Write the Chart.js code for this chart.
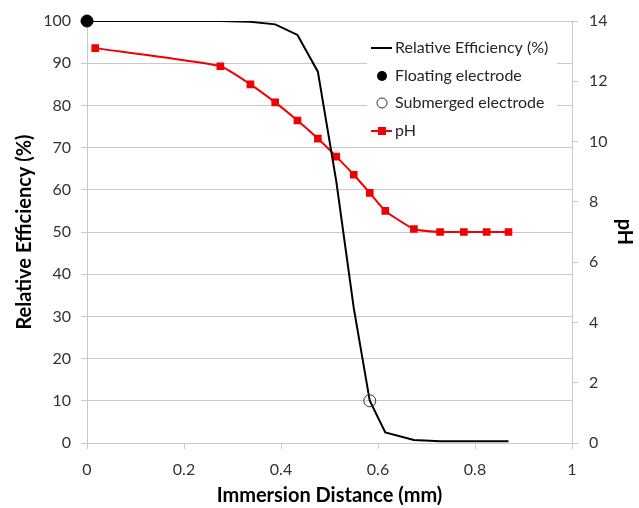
<!DOCTYPE html>
<html>
<head>
<meta charset="utf-8">
<script src="https://cdn.jsdelivr.net/npm/chart.js@4.4.0/dist/chart.umd.min.js"></script>
<style>
html, body { margin: 0; padding: 0; background: #fff; }
#wrap { width: 639px; height: 508px; }
</style>
</head>
<body>
<div id="wrap"><canvas id="LineChart"></canvas></div>
<script>
// data block (immersion distance in mm)
const effDistance = [0, 0.275, 0.337, 0.388, 0.434, 0.476, 0.514, 0.550, 0.583, 0.615, 0.674, 0.728, 0.777, 0.824, 0.869];
const effValues = [100, 100, 99.8, 99.2, 96.7, 88, 62, 32, 10, 2.5, 0.7, 0.4, 0.4, 0.4, 0.4];
const phDistance = [0.017, 0.275, 0.337, 0.388, 0.434, 0.476, 0.514, 0.550, 0.583, 0.615, 0.674, 0.728, 0.777, 0.824, 0.869];
const phValues = [13.1, 12.5, 11.9, 11.3, 10.7, 10.1, 9.5, 8.9, 8.3, 7.7, 7.1, 7.0, 7.0, 7.0, 7.0];
const floatingPoint = [0, 100];
const submergedPoint = [0.583, 10];
const xTicks = [0, 0.2, 0.4, 0.6, 0.8, 1];
const effTicks = [0, 10, 20, 30, 40, 50, 60, 70, 80, 90, 100];
const phTicks = [0, 2, 4, 6, 8, 10, 12, 14];
const labels = ['Relative Efficiency (%)', 'Floating electrode', 'Submerged electrode', 'pH'];

const FONT = 'Lato, "Open Sans", sans-serif';
const GRID = '#c9c9c9';
const RED = '#f00000';

const chartCanvas = document.getElementById('LineChart');

// legend drawn inside the plot, excel style
const insideLegend = {
    id: 'insideLegend',
    beforeDatasetsDraw(chart) {
        const ctx = chart.ctx;
        const a = chart.chartArea;
        const bx = a.left + 280, by = a.top + 15;
        ctx.save();
        ctx.fillStyle = '#fff';
        ctx.fillRect(bx, by, 190, 104);
        const rows = [12, 40, 67, 95];
        const sx = bx + 15, tx = bx + 28;
        ctx.font = '16px ' + FONT;
        ctx.textBaseline = 'middle';
        ctx.fillStyle = '#262626';
        rows.forEach((dy, i) => {
            const y = by + dy;
            if (i === 0) {
                ctx.strokeStyle = '#000';
                ctx.lineWidth = 2;
                ctx.beginPath(); ctx.moveTo(sx - 11, y); ctx.lineTo(sx + 10, y); ctx.stroke();
            } else if (i === 1) {
                ctx.fillStyle = '#000';
                ctx.beginPath(); ctx.arc(sx, y, 5, 0, Math.PI * 2); ctx.fill();
                ctx.fillStyle = '#262626';
            } else if (i === 2) {
                ctx.strokeStyle = '#333';
                ctx.lineWidth = 1;
                ctx.beginPath(); ctx.arc(sx, y, 5, 0, Math.PI * 2); ctx.stroke();
            } else {
                ctx.strokeStyle = RED;
                ctx.lineWidth = 2;
                ctx.beginPath(); ctx.moveTo(sx - 11, y); ctx.lineTo(sx + 10, y); ctx.stroke();
                ctx.fillStyle = RED;
                ctx.fillRect(sx - 4, y - 4, 8, 8);
                ctx.fillStyle = '#262626';
            }
            ctx.fillText(labels[i], tx, y);
        });
        ctx.restore();
    }
};

//setup block
const data = {
    datasets: [
        {
            label: labels[1],
            data: [{ x: floatingPoint[0], y: floatingPoint[1] }],
            showLine: false,
            pointRadius: 6,
            pointBackgroundColor: '#000',
            pointBorderColor: '#000',
            clip: false,
            yAxisID: 'y'
        },
        {
            label: labels[2],
            data: [{ x: submergedPoint[0], y: submergedPoint[1] }],
            showLine: false,
            pointRadius: 6,
            pointBackgroundColor: 'rgba(0,0,0,0)',
            pointBorderColor: '#333',
            pointBorderWidth: 1,
            clip: false,
            yAxisID: 'y'
        },
        {
            label: labels[0],
            data: effDistance.map((x, i) => ({ x, y: effValues[i] })),
            borderColor: '#000',
            borderWidth: 2,
            pointRadius: 0,
            tension: 0,
            yAxisID: 'y'
        },
        {
            label: labels[3],
            data: phDistance.map((x, i) => ({ x, y: phValues[i] })),
            borderColor: RED,
            backgroundColor: RED,
            borderWidth: 2,
            pointStyle: 'rect',
            pointRadius: 4,
            tension: 0.15,
            yAxisID: 'y2'
        }
    ]
};

// config block
const config = {
    type: 'line',
    data,
    options: {
        animation: false,
        responsive: true,
        maintainAspectRatio: false,
        layout: { padding: { top: 21, left: 0, right: 0, bottom: 0 } },
        scales: {
            x: {
                type: 'linear',
                min: 0,
                max: 1,
                afterBuildTicks: s => { s.ticks = xTicks.map(v => ({ value: v })); },
                afterFit: s => { s.height = 65; },
                ticks: { padding: 11, color: '#333', font: { family: FONT, size: 16 }, maxRotation: 0, callback: v => String(v) },
                grid: { drawOnChartArea: false, drawTicks: true, tickLength: 6, color: GRID },
                border: { color: GRID },
                title: { display: true, text: 'Immersion Distance (mm)', color: '#000', padding: { top: 0, bottom: 0 }, font: { family: FONT, size: 20, weight: 'bold' } }
            },
            y: {
                position: 'left',
                min: 0,
                max: 100,
                afterBuildTicks: s => { s.ticks = effTicks.map(v => ({ value: v })); },
                afterFit: s => { s.width = 87; },
                ticks: { padding: 10, color: '#333', font: { family: FONT, size: 16 } },
                grid: { color: GRID, tickLength: 6 },
                border: { color: GRID },
                title: { display: true, text: 'Relative Efficiency (%)', color: '#000', padding: { top: 13, bottom: 0 }, font: { family: FONT, size: 20, weight: 'bold' } }
            },
            y2: {
                position: 'right',
                min: 0,
                max: 14,
                afterBuildTicks: s => { s.ticks = phTicks.map(v => ({ value: v })); },
                afterFit: s => { s.width = 67; },
                ticks: { padding: 11, color: '#333', font: { family: FONT, size: 16 } },
                grid: { drawOnChartArea: false, color: GRID, tickLength: 6 },
                border: { color: GRID },
                title: { display: true, text: 'pH', color: '#000', padding: { top: 3, bottom: 0 }, font: { family: FONT, size: 20, weight: 'bold' } }
            }
        },
        plugins: {
            legend: { display: false },
            tooltip: { enabled: false }
        }
    },
    plugins: [insideLegend]
};

// render init block
const liveChart = new Chart(chartCanvas, config);
</script>
</body>
</html>
